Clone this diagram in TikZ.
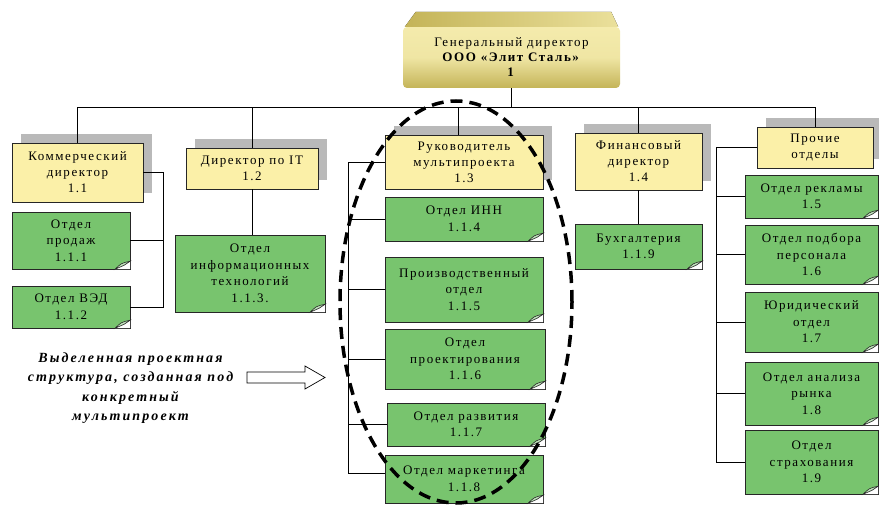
\documentclass[tikz,border=0pt]{standalone}
\usepackage{fontspec}
\setmainfont{Liberation Serif}
\newfontfamily\boxfont[LetterSpace=12]{Liberation Serif}
\newfontfamily\notefont[LetterSpace=15]{Liberation Serif}
\usetikzlibrary{shadows}

\definecolor{dirfill}{HTML}{FBF0A8}
\definecolor{deptfill}{HTML}{78C46E}
\definecolor{genlight}{HTML}{F4EBAC}
\definecolor{gendark}{HTML}{C4B458}

\tikzset{
  dirbox/.style={draw=black!85, fill=dirfill, align=center, inner sep=1pt,
    font=\boxfont\fontsize{13}{16}\selectfont,
    drop shadow={shadow xshift=9pt, shadow yshift=9pt, fill=gray!55, opacity=1}},
  deptbox/.style={draw=black!85, fill=deptfill, align=center, inner sep=1pt,
    font=\boxfont\fontsize{13}{16.5}\selectfont},
  link/.style={black, line width=0.6pt}
}

\begin{document}
\begin{tikzpicture}[x=1pt, y=-1pt]
\useasboundingbox[fill=white] (0,0) rectangle (879,505);

% general director
\node[rounded corners=4pt, top color=genlight, bottom color=gendark, middle color=genlight!90!gendark,
  minimum width=217, minimum height=61, align=center, font=\boxfont\fontsize{13}{15}\selectfont]
  (gen) at (511.5,57.5) {Генеральный директор\\\textbf{ООО «Элит Сталь»}\\\textbf{1}};
\fill[left color=gendark, right color=genlight!80!gendark] ([xshift=2pt]gen.north west) -- ([xshift=13pt,yshift=15pt]gen.north west)
  -- ([xshift=-9pt,yshift=15pt]gen.north east) -- ([xshift=-2pt]gen.north east) -- cycle;

% directors
\node[dirbox, minimum width=131, minimum height=59] (com) at (77.5,172.5) {Коммерческий\\директор\\1.1};
\node[dirbox, minimum width=132, minimum height=41] (it) at (252,168.5) {Директор по IT\\1.2};
\node[dirbox, minimum width=158, minimum height=54] (mp) at (464,162) {Руководитель\\мультипроекта\\1.3};
\node[dirbox, minimum width=127, minimum height=57] (fin) at (638.5,161.5) {Финансовый\\директор\\1.4};
\node[dirbox, minimum width=116, minimum height=41] (other) at (815,147.5) {Прочие\\отделы};

% departments
\node[deptbox, minimum width=118, minimum height=57] (sales) at (71,240.5) {Отдел\\продаж\\1.1.1};
\node[deptbox, minimum width=118, minimum height=42] (ved) at (71,307) {Отдел ВЭД\\1.1.2};
\node[deptbox, minimum width=150, minimum height=77] (itdep) at (250,273.5) {Отдел\\информационных\\технологий\\1.1.3.};
\node[deptbox, minimum width=158, minimum height=44] (inn) at (464,219) {Отдел ИНН\\1.1.4};
\node[deptbox, minimum width=158, minimum height=65] (prod) at (464,289.5) {Производственный\\отдел\\1.1.5};
\node[deptbox, minimum width=160, minimum height=60] (design) at (465,359) {Отдел\\проектирования\\1.1.6};
\node[deptbox, minimum width=158, minimum height=43] (devel) at (466,424.5) {Отдел развития\\1.1.7};
\node[deptbox, minimum width=158, minimum height=48] (market) at (464,479) {Отдел маркетинга\\1.1.8};
\node[deptbox, minimum width=127, minimum height=45] (acc) at (638.5,246.5) {Бухгалтерия\\1.1.9};
\node[deptbox, minimum width=133, minimum height=43] (ads) at (811.5,196.5) {Отдел рекламы\\1.5};
\node[deptbox, minimum width=133, minimum height=59] (hr) at (811.5,254.5) {Отдел подбора\\персонала\\1.6};
\node[deptbox, minimum width=133, minimum height=60] (legal) at (811.5,322) {Юридический\\отдел\\1.7};
\node[deptbox, minimum width=133, minimum height=63] (mkt) at (811.5,393.5) {Отдел анализа\\рынка\\1.8};
\node[deptbox, minimum width=133, minimum height=64] (ins) at (811.5,462) {Отдел\\страхования\\1.9};

% folded corners
\foreach \n in {sales,ved,itdep,inn,prod,design,devel,market,acc,ads,hr,legal,mkt,ins}{
  \fill[white] (\n.south east) -- ([xshift=-15pt]\n.south east) -- ([yshift=8pt]\n.south east) -- cycle;
  \draw[black!85, fill=deptfill!45, line width=0.6pt] ([xshift=-15pt]\n.south east)
    .. controls ([xshift=-9pt,yshift=6pt]\n.south east) .. ([yshift=8pt]\n.south east)
    -- ([xshift=-6pt,yshift=4pt]\n.south east) -- cycle;
}

% top level
\draw[link] (gen.south) -- ++(0,19) -| (com.north);
\draw[link] (gen.south) -- ++(0,19) -| (it.north);
\draw[link] (gen.south) -- ++(0,19) -| ([xshift=-6pt]mp.north);
\draw[link] (gen.south) -- ++(0,19) -| (fin.north);
\draw[link] (gen.south) -- ++(0,19) -| (other.north);

% commercial
\coordinate (lbar) at (163,172.5);
\draw[link] (com.east) -- (lbar) |- (ved.east);
\draw[link] (sales.east) -- (sales.east -| lbar);

% IT and finance
\draw[link] (it.south) -- (it.south |- itdep.north);
\draw[link] (fin.south) -- (acc.north);

% multiproject
\coordinate (mbar) at (348,162);
\draw[link] (mp.west) -- (mbar) |- ([yshift=6pt]market.west);
\foreach \n in {inn,prod,design,devel}
  \draw[link] (\n.west) -- (\n.west -| mbar);

% other departments
\coordinate (rbar) at (716,147.5);
\draw[link] (other.west) -- (rbar) |- (ins.west);
\foreach \n in {ads,hr,legal,mkt}
  \draw[link] (\n.west) -- (\n.west -| rbar);

% project structure
\draw[line width=3.5pt, dash pattern=on 12pt off 7pt] (456,302) ellipse [x radius=116pt, y radius=201pt];

% note
\node[align=center, font=\notefont\bfseries\itshape\fontsize{14}{19.5}\selectfont] (note) at (130.5,388)
  {Выделенная проектная\\структура, созданная под\\конкретный\\мультипроект};
\draw[line width=0.7pt] (247,372) -- (305,372) -- (305,366) -- (325,377.5) -- (305,389) -- (305,383) -- (247,383) -- cycle;
\end{tikzpicture}
\end{document}
